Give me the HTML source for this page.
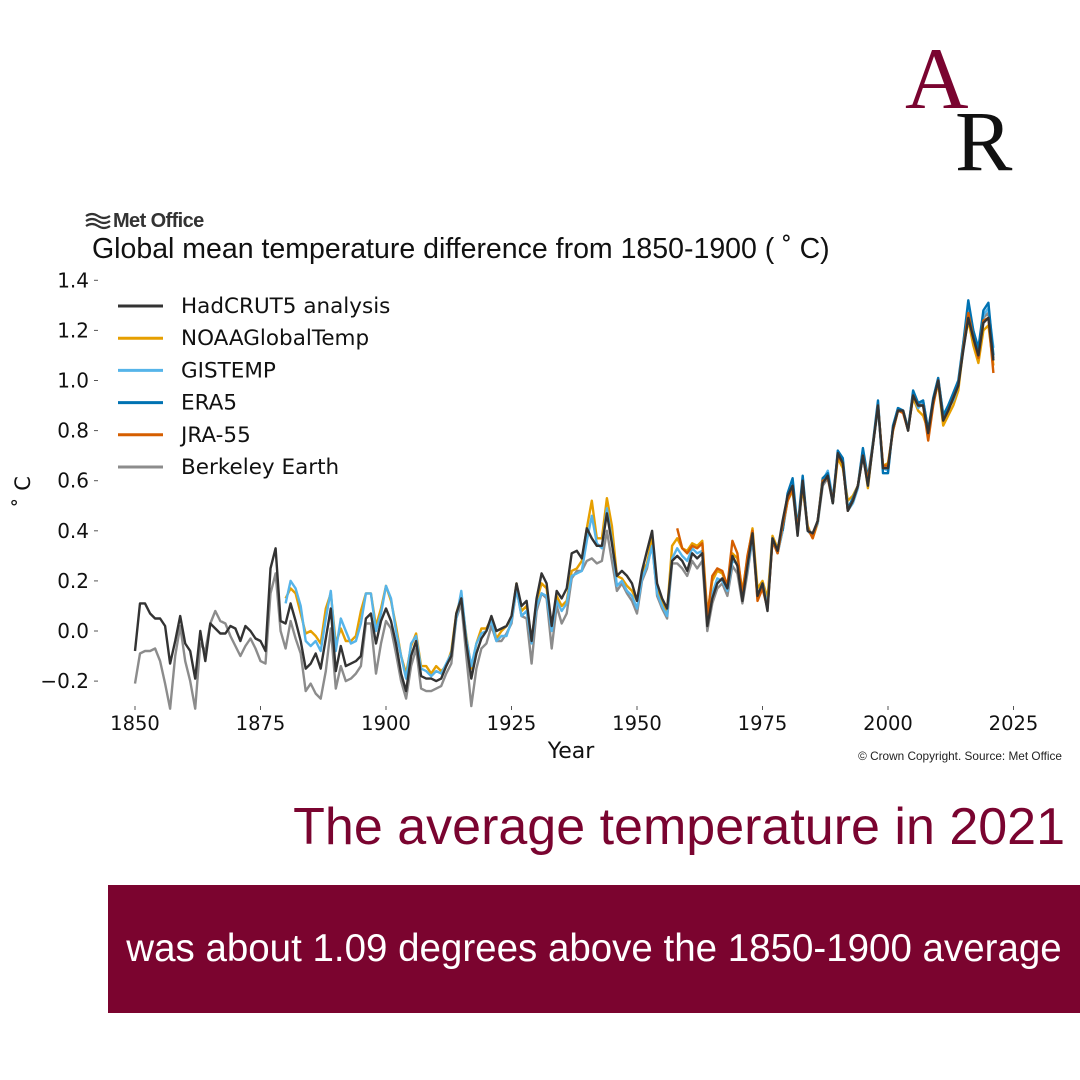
<!DOCTYPE html>
<html><head><meta charset="utf-8"><style>
body{margin:0;width:1080px;height:1080px;background:#fff;overflow:hidden;font-family:"Liberation Sans",sans-serif;position:relative}
.abs{position:absolute}
</style></head><body>
<div class="abs" style="left:905px;top:36px;font-family:'Liberation Serif',serif;font-size:88px;color:#7a0430;line-height:1">A</div>
<div class="abs" style="left:955px;top:98px;font-family:'Liberation Serif',serif;font-size:86px;color:#111;line-height:1">R</div>
<svg class="abs" style="left:0;top:0" width="1080" height="800" id="chart">
<g>
<path d="M86 216 q6 -4 12 0 t12 0 M86 221 q6 -4 12 0 t12 0 M86 226 q6 -4 12 0 t12 0" stroke="#333" stroke-width="2.2" fill="none"/>
<text x="113" y="227" font-size="20" font-weight="bold" fill="#333" letter-spacing="-0.6">Met Office</text></g>
<text x="92" y="258" font-size="28.5" fill="#111">Global mean temperature difference from 1850-1900 ( ˚ C)</text>
<text transform="translate(30,492) rotate(-90)" font-size="21" text-anchor="middle" fill="#111" font-family="DejaVu Sans">˚ C</text>
<text x="571" y="758" font-size="22" text-anchor="middle" fill="#111" font-family="DejaVu Sans">Year</text>
<text x="1062" y="760" font-size="11.8" text-anchor="end" fill="#222">© Crown Copyright. Source: Met Office</text>
<g id="axes" font-family="DejaVu Sans"></g><g id="series"></g><g id="legend" font-family="DejaVu Sans"></g>
</svg>
<div class="abs" style="right:15px;top:797px;font-size:52px;color:#7a0430;white-space:nowrap">The average temperature in 2021</div>
<div class="abs" style="left:108px;top:885px;width:972px;height:128px;background:#7b042f;color:#fff;font-size:38.5px;display:flex;align-items:center;justify-content:center;white-space:nowrap">was about 1.09 degrees above the 1850-1900 average</div>
<script>
const yTicks=[-0.2,0.0,0.2,0.4,0.6,0.8,1.0,1.2,1.4];
const xTicks=[1850,1875,1900,1925,1950,1975,2000,2025];
const seriesNames=["HadCRUT5 analysis","NOAAGlobalTemp","GISTEMP","ERA5","JRA-55","Berkeley Earth"];
const hadcrutStart=1850;
const hadcrut=[-0.08,0.11,0.11,0.07,0.05,0.05,0.02,-0.13,-0.04,0.06,
-0.05,-0.08,-0.19,0.00,-0.12,0.03,0.01,-0.01,-0.01,0.02,
0.01,-0.04,0.02,0.00,-0.03,-0.04,-0.08,0.25,0.33,0.04,
0.03,0.11,0.04,-0.04,-0.15,-0.13,-0.09,-0.15,-0.03,0.09,
-0.16,-0.06,-0.14,-0.13,-0.12,-0.10,0.05,0.07,-0.05,0.04,
0.09,0.04,-0.05,-0.17,-0.24,-0.10,-0.04,-0.18,-0.19,-0.19,
-0.20,-0.19,-0.14,-0.10,0.07,0.13,-0.05,-0.19,-0.09,-0.03,
0.00,0.06,0.00,0.01,0.02,0.06,0.19,0.10,0.12,-0.04,
0.13,0.23,0.19,0.02,0.16,0.13,0.17,0.31,0.32,0.29,
0.41,0.37,0.34,0.34,0.47,0.35,0.22,0.24,0.22,0.19,
0.12,0.24,0.32,0.40,0.19,0.13,0.09,0.28,0.30,0.28,
0.24,0.31,0.29,0.31,0.02,0.13,0.19,0.21,0.17,0.30,
0.26,0.12,0.26,0.39,0.14,0.19,0.08,0.37,0.32,0.44,
0.54,0.58,0.38,0.60,0.40,0.39,0.44,0.59,0.62,0.51,
0.71,0.67,0.48,0.52,0.58,0.70,0.58,0.74,0.90,0.65,
0.65,0.81,0.88,0.88,0.80,0.94,0.90,0.90,0.79,0.92,
1.00,0.84,0.88,0.93,0.98,1.12,1.25,1.17,1.10,1.23,
1.25,1.08];
const noaaStart=1880;
const noaa=[0.13,0.17,0.15,0.07,-0.01,0.00,-0.02,-0.05,0.09,0.15,
-0.05,0.01,-0.04,-0.04,-0.02,0.08,0.15,0.15,0.02,0.09,
0.18,0.12,0.02,-0.10,-0.17,-0.06,-0.01,-0.14,-0.14,-0.17,
-0.14,-0.16,-0.14,-0.08,0.07,0.14,-0.02,-0.15,-0.05,0.01,
0.01,0.05,-0.03,0.00,0.02,0.05,0.19,0.08,0.10,-0.04,
0.12,0.19,0.17,0.01,0.14,0.10,0.12,0.24,0.25,0.28,
0.41,0.52,0.37,0.37,0.53,0.42,0.22,0.21,0.18,0.16,
0.12,0.23,0.27,0.37,0.17,0.11,0.08,0.34,0.37,0.33,
0.32,0.35,0.34,0.36,0.07,0.20,0.24,0.23,0.18,0.31,
0.29,0.16,0.29,0.41,0.17,0.20,0.13,0.38,0.33,0.41,
0.52,0.56,0.42,0.57,0.42,0.37,0.43,0.61,0.63,0.51,
0.69,0.65,0.52,0.54,0.58,0.72,0.57,0.75,0.90,0.66,
0.67,0.80,0.88,0.88,0.81,0.93,0.88,0.86,0.80,0.91,
0.99,0.82,0.86,0.90,0.96,1.13,1.24,1.14,1.07,1.20,
1.22,1.06];
const gisStart=1880;
const gis=[0.11,0.20,0.17,0.10,-0.04,-0.06,-0.04,-0.08,0.05,0.16,
-0.08,0.05,0.00,-0.05,-0.04,0.03,0.15,0.15,0.00,0.07,
0.18,0.13,0.00,-0.10,-0.19,-0.05,-0.02,-0.15,-0.16,-0.18,
-0.16,-0.17,-0.13,-0.09,0.05,0.16,-0.03,-0.14,-0.05,-0.01,
0.00,0.04,-0.04,-0.02,-0.02,0.04,0.17,0.06,0.08,-0.05,
0.10,0.15,0.14,0.00,0.12,0.08,0.11,0.22,0.23,0.24,
0.36,0.46,0.35,0.33,0.49,0.36,0.18,0.20,0.16,0.14,
0.09,0.21,0.26,0.34,0.15,0.10,0.06,0.29,0.33,0.30,
0.28,0.33,0.31,0.32,0.05,0.15,0.21,0.20,0.16,0.28,
0.27,0.13,0.25,0.37,0.14,0.19,0.10,0.37,0.31,0.40,
0.53,0.58,0.40,0.60,0.41,0.38,0.43,0.60,0.64,0.53,
0.71,0.68,0.48,0.51,0.57,0.72,0.60,0.74,0.89,0.65,
0.64,0.81,0.89,0.88,0.81,0.95,0.89,0.91,0.80,0.91,
1.00,0.87,0.89,0.92,0.98,1.15,1.29,1.20,1.11,1.26,
1.29,1.13];
const era5Start=1979;
const era5=[0.40,0.55,0.61,0.41,0.62,0.40,0.38,0.44,0.61,0.63,
0.51,0.72,0.69,0.49,0.53,0.58,0.73,0.61,0.75,0.92,
0.63,0.63,0.82,0.89,0.88,0.80,0.96,0.91,0.92,0.80,
0.93,1.01,0.86,0.90,0.95,1.00,1.15,1.32,1.20,1.13,
1.28,1.31,1.10];
const jraStart=1958;
const jra=[0.41,0.33,0.31,0.34,0.33,0.35,
0.05,0.22,0.25,0.24,0.18,0.36,
0.31,0.14,0.30,0.40,0.12,0.17,0.09,0.36,0.31,0.42,
0.52,0.57,0.40,0.59,0.41,0.37,0.44,0.60,0.61,0.52,
0.70,0.67,0.48,0.52,0.58,0.70,0.60,0.74,0.90,0.66,
0.66,0.80,0.88,0.87,0.80,0.94,0.90,0.90,0.76,0.90,
1.00,0.84,0.88,0.93,0.98,1.13,1.27,1.17,1.09,1.24,
1.25,1.03];
const berkeleyStart=1850;
const berkeley=[-0.21,-0.09,-0.08,-0.08,-0.07,-0.12,-0.21,-0.31,-0.10,0.02,
-0.12,-0.20,-0.31,-0.05,-0.08,0.03,0.08,0.04,0.03,-0.02,
-0.06,-0.10,-0.06,-0.03,-0.07,-0.12,-0.13,0.15,0.23,0.00,
-0.07,0.04,-0.03,-0.09,-0.24,-0.21,-0.25,-0.27,-0.16,0.01,
-0.23,-0.14,-0.20,-0.19,-0.17,-0.14,0.03,0.03,-0.17,-0.05,
0.04,0.01,-0.09,-0.20,-0.27,-0.14,-0.07,-0.23,-0.24,-0.24,
-0.23,-0.22,-0.17,-0.13,0.05,0.11,-0.10,-0.30,-0.15,-0.07,
-0.05,0.02,-0.04,-0.04,-0.01,0.03,0.17,0.06,0.05,-0.13,
0.08,0.15,0.13,-0.07,0.10,0.03,0.07,0.21,0.24,0.24,
0.28,0.29,0.27,0.28,0.40,0.28,0.16,0.19,0.15,0.12,
0.07,0.20,0.25,0.35,0.14,0.09,0.05,0.27,0.27,0.25,
0.22,0.28,0.25,0.28,0.00,0.11,0.17,0.19,0.14,0.26,
0.23,0.11,0.23,0.37,0.13,0.18,0.10,0.36,0.31,0.40,
0.52,0.56,0.39,0.58,0.40,0.38,0.43,0.58,0.61,0.51,
0.70,0.67,0.48,0.52,0.58,0.71,0.58,0.74,0.90,0.66,
0.66,0.81,0.89,0.88,0.81,0.95,0.90,0.92,0.80,0.92,
1.01,0.86,0.90,0.94,0.98,1.14,1.27,1.18,1.11,1.25,
1.27,1.09];

const NS='http://www.w3.org/2000/svg';
function xs(yr){return 135+(yr-1850)*5.02;}
function ys(v){return 631-v*250.5;}
function mk(tag,attrs,parent){const e=document.createElementNS(NS,tag);for(const k in attrs)e.setAttribute(k,attrs[k]);parent.appendChild(e);return e;}
const axes=document.getElementById('axes');
yTicks.forEach(v=>{
  const t=mk('text',{x:89,y:ys(v)+7,'font-size':20,'text-anchor':'end',fill:'#111'},axes);
  t.textContent=(v<0?'\u2212':'')+Math.abs(v).toFixed(1);
  
  
  const l=mk('line',{x1:94,x2:98,y1:ys(v),y2:ys(v),stroke:'#555','stroke-width':1},axes);
  
  
});
xTicks.forEach(yr=>{
  const t=mk('text',{x:xs(yr),y:730,'font-size':19.5,'text-anchor':'middle',fill:'#111'},axes);
  t.textContent=yr;
  
  
  const l=mk('line',{x1:xs(yr),x2:xs(yr),y1:706,y2:710,stroke:'#555','stroke-width':1},axes);
  
  
});
const colors=['#333333','#e69f00','#56b4e9','#0072b2','#d55e00','#8c8c8c'];
const data=[[hadcrut,hadcrutStart],[noaa,noaaStart],[gis,gisStart],[era5,era5Start],[jra,jraStart],[berkeley,berkeleyStart]];
const ser=document.getElementById('series');
[5,1,2,3,4,0].forEach(i=>{
  const [arr,st]=data[i];
  const d=arr.map((v,j)=>(j?'L':'M')+xs(st+j).toFixed(1)+' '+ys(v).toFixed(1)).join(' ');
  const p=mk('path',{d:d,fill:'none',stroke:colors[i],'stroke-width':2.4,'stroke-linejoin':'round'},ser);
  
  
});
const leg=document.getElementById('legend');
seriesNames.forEach((n,i)=>{
  const y=306+i*32.2;
  const g=mk('g',{},leg);
  
  
  mk('line',{x1:118,x2:163,y1:y,y2:y,stroke:colors[i],'stroke-width':3},g);
  const t=mk('text',{x:181,y:y+7,'font-size':21.5,fill:'#111'},g);
  t.textContent=n;
});
</script>
</body></html>
